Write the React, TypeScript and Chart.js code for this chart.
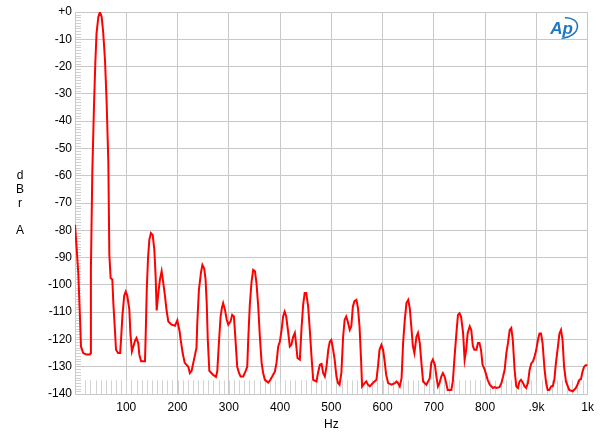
import React, { useEffect, useRef } from 'react';
import { Chart, registerables } from 'chart.js';

Chart.register(...registerables);

// Frequency (Hz) and level (dBr A) of the trace
const freqHz = [
  0, 3, 6.5, 9.7, 11.7, 16, 22, 29, 30.5, 31, 33.8, 37, 39.6, 42, 45.5, 48.7, 52, 55, 58.5, 61.7,
  65, 67, 69.5, 72.8, 74.8, 78, 80, 84, 88, 90, 92.6, 96, 99, 102, 106, 108, 111, 114, 117, 120,
  123.5, 125.5, 129, 136.5, 138, 140, 142.5, 145, 148, 151.5, 154.7, 157.3, 159.3, 162.5, 165.7, 169, 172, 175.5, 178.7, 182,
  188.5, 195, 199.6, 204, 206, 210, 214, 221, 224, 227.5, 232, 237, 238.5, 241.7, 245.7, 248.5, 252, 254.7, 257, 259,
  262, 269.6, 275, 277.5, 280.7, 284, 286.5, 289, 292.4, 296, 299, 303.4, 306.6, 310, 313, 316.4, 320, 323, 328, 332.6,
  336, 337.9, 341, 344.4, 347.6, 351, 354, 357.4, 360.6, 364, 367, 370.4, 377, 381, 384.6, 390, 393, 396.4, 399.6, 403,
  406, 409, 412, 416, 419, 422, 425.6, 428.8, 431, 434, 438.6, 441.9, 445, 448, 451, 454.8, 458, 461.3, 464.6, 471,
  474, 477.6, 481, 484, 487.3, 490.6, 494, 497, 500, 503.6, 506.5, 510, 513, 516, 519.6, 523, 526, 529, 532, 536,
  539, 542, 545, 549, 552, 555, 558, 560, 565, 568, 571.6, 575, 581, 588, 591, 594, 597.6, 601, 604, 607,
  610.8, 617.5, 624, 627, 630, 633.5, 637, 640, 643.3, 646.5, 650, 653, 656, 659, 662, 666, 669, 672.5, 675.7, 679,
  685.4, 692, 695, 698, 702, 705, 708, 711, 714.5, 717.6, 721, 724, 727, 734, 737, 740, 744, 747, 750, 753,
  757, 760, 763, 766, 770, 773, 776, 779, 783, 786, 789, 792, 795, 799, 805, 809, 815.5, 819, 822, 828,
  831.7, 835, 838, 841.4, 844.6, 848, 851, 854, 857.5, 860.7, 864, 867, 870, 874, 877, 880, 883.5, 886.7, 890, 893,
  896, 899.7, 903, 906, 909, 912, 916, 919, 922, 925, 929, 932, 935, 938, 942, 945, 948, 951, 954, 957.6,
  964, 971, 977, 980, 984, 987, 990, 993, 996, 1000,
];

const levelDb = [
  -78, -86, -96, -112, -122.6, -125, -125.5, -125.5, -125, -94.5, -58.5, -34.7, -18.8, -7.8, -1.8, 0, -1.8, -7.5, -17.6, -33,
  -55, -89, -97.5, -98, -106.7, -117, -123.8, -125, -125, -119.5, -111, -104, -102.5, -104, -109, -117.6, -124.4, -122.5, -120.5, -119.5,
  -121.5, -125.6, -128, -128, -117.6, -101.8, -90, -83.5, -81, -81.7, -87, -97, -109.4, -103, -98, -95, -99, -104, -109.5, -113.4,
  -114.6, -115, -113, -117, -120, -125, -128.6, -130, -132.3, -131.5, -127.5, -123, -114, -101.8, -95.5, -92.7, -94, -98, -107, -120,
  -131.5, -133, -133.7, -131.7, -121.3, -111.6, -108.5, -106.7, -109, -112.8, -114.6, -113.4, -111, -111.6, -120, -130, -132.3, -133.6, -133.6, -131.7,
  -130, -120, -107.3, -98.8, -94.5, -95, -99.4, -107.9, -119, -128.6, -132.3, -134.8, -135.8, -134.8, -133.6, -131.7, -128.6, -122.6, -120.8, -116.5,
  -111.6, -109.8, -111.6, -117.6, -122.6, -122, -119, -117.6, -121.3, -126.8, -127.4, -115.8, -107.3, -103, -103, -107.9, -116.5, -126.2, -134.8, -135.4,
  -132.3, -129.3, -129, -132.3, -133.6, -129.9, -123.8, -120.8, -120.2, -123.8, -127.4, -133.6, -136, -136.6, -132.3, -119, -112.8, -111.6, -113.4, -116.5,
  -115.2, -108, -106, -105.5, -108.5, -115.2, -127.4, -137.2, -136, -135.4, -136.6, -137.2, -136, -134.8, -129.9, -123.8, -122, -123.8, -128, -133,
  -136, -136.6, -136, -135.4, -136, -137.2, -134.2, -121.3, -112.8, -106.7, -105.5, -108.5, -115.2, -122.4, -125, -119, -117.6, -121.3, -128.6, -135.4,
  -136.6, -134.2, -128.6, -127.4, -129.3, -133.6, -137.2, -136, -133.6, -132.3, -133.6, -136, -138.5, -138.5, -135.4, -127.4, -117.6, -111, -110.4, -111.6,
  -117.6, -127.4, -123.8, -117.6, -115.2, -116.5, -122.4, -123.8, -123.8, -121.3, -121.3, -123.8, -129.3, -131, -134.8, -136.6, -137.8, -137.5, -137.8, -137.5,
  -136, -133.6, -131.2, -125, -121.3, -116.5, -115.8, -120.2, -131.2, -137.2, -137.8, -135.4, -134.8, -136, -137.2, -137.8, -136, -131.2, -128.8, -128.2,
  -126.6, -123.8, -120.2, -117.8, -117.8, -121.3, -131.2, -136, -138.5, -138.5, -137.2, -137.2, -134.8, -128.8, -122.6, -117.8, -116.5, -120.2, -130, -135.4,
  -138.5, -139, -137.8, -136.6, -134.8, -134.5, -131.8, -130, -129.5, -129.5,
];

const xTickValues = [0, 100, 200, 300, 400, 500, 600, 700, 800, 900, 1000];
const xTickLabels = ['', '100', '200', '300', '400', '500', '600', '700', '800', '.9k', '1k'];
const yTickValues = [0, -10, -20, -30, -40, -50, -60, -70, -80, -90, -100, -110, -120, -130, -140];
const yTickLabels = ['+0', '-10', '-20', '-30', '-40', '-50', '-60', '-70', '-80', '-90', '-100', '-110', '-120', '-130', '-140'];
const yAxisTitle = ['d', 'B', 'r', '', 'A'];
const xAxisTitle = 'Hz';
const noiseFloorDb = -135;

const FONT = '"Liberation Sans", Arial, sans-serif';
const GRID = '#c8c8c8';

const decorPlugin = {
  id: 'decor',
  beforeDatasetsDraw(chart: any) {
    const { ctx, chartArea, scales } = chart;
    const x = scales.x;
    const y = scales.y;
    ctx.save();
    // minor ticks on the left edge
    ctx.strokeStyle = '#cfcfcf';
    ctx.lineWidth = 1;
    ctx.beginPath();
    for (let v = -139; v < 0; v++) {
      if (v % 10 === 0) continue;
      const py = Math.round(y.getPixelForValue(v)) + 0.5;
      ctx.moveTo(chartArea.left, py);
      ctx.lineTo(chartArea.left + 6, py);
    }
    ctx.stroke();
    // hatch below noise floor
    ctx.strokeStyle = '#d2d2d2';
    ctx.beginPath();
    const top = y.getPixelForValue(noiseFloorDb);
    const bottom = y.getPixelForValue(-140);
    for (let f = 20; f < 1000; f += 10) {
      const px = Math.round(x.getPixelForValue(f)) + 0.5;
      ctx.moveTo(px, top);
      ctx.lineTo(px, bottom);
    }
    ctx.stroke();
    ctx.restore();
  },
  afterDraw(chart: any) {
    const { ctx, chartArea } = chart;
    ctx.save();
    ctx.fillStyle = '#000';
    ctx.font = `12px ${FONT}`;
    ctx.textAlign = 'center';
    ctx.textBaseline = 'middle';
    const startY = 176;
    yAxisTitle.forEach((t, i) => {
      if (t) ctx.fillText(t, 20, startY + i * 13.7);
    });
    // AP logo
    const lx = chartArea.right - 24;
    const ly = chartArea.top + 16;
    ctx.fillStyle = '#1f77c0';
    ctx.strokeStyle = '#1f77c0';
    ctx.font = `italic bold 17px ${FONT}`;
    ctx.textAlign = 'center';
    ctx.fillText('Ap', lx - 2, ly + 1);
    ctx.lineWidth = 1.6;
    ctx.beginPath();
    ctx.ellipse(lx, ly, 14, 10, -0.25, -1.3, 1.9);
    ctx.stroke();
    ctx.restore();
  },
};

export default function App() {
  const ref = useRef<HTMLCanvasElement | null>(null);
  useEffect(() => {
    document.body.style.margin = '0';
    if (!ref.current) return;
    const points = freqHz.map((f, i) => ({ x: f, y: levelDb[i] }));
    const chart = new Chart(ref.current, {
      type: 'line',
      data: {
        datasets: [
          {
            data: points,
            borderColor: '#ff0000',
            borderWidth: 2,
            pointRadius: 0,
            tension: 0,
            fill: false,
          },
        ],
      },
      options: {
        animation: false,
        responsive: false,
        devicePixelRatio: 1,
        layout: { padding: { top: 12, right: 12, left: 0, bottom: 0 } },
        plugins: { legend: { display: false }, tooltip: { enabled: false } },
        scales: {
          x: {
            type: 'linear',
            min: 0,
            max: 1000,
            afterFit: (s: any) => { s.height = 46; },
            afterBuildTicks: (s: any) => { s.ticks = xTickValues.map((v) => ({ value: v })); },
            ticks: {
              autoSkip: false,
              maxRotation: 0,
              padding: 6,
              color: '#000',
              font: { family: FONT, size: 12 },
              callback: (v: any) => {
                const i = xTickValues.indexOf(Number(v));
                return i >= 0 ? xTickLabels[i] : '';
              },
            },
            grid: { color: GRID, drawTicks: false, lineWidth: 1 },
            border: { display: true, color: GRID },
            title: { display: true, text: xAxisTitle, color: '#000', font: { family: FONT, size: 12 }, padding: { top: 2, bottom: 8 } },
          },
          y: {
            type: 'linear',
            min: -140,
            max: 0,
            afterFit: (s: any) => { s.width = 75; },
            afterBuildTicks: (s: any) => { s.ticks = yTickValues.map((v) => ({ value: v })); },
            ticks: {
              autoSkip: false,
              padding: 3,
              color: '#000',
              font: { family: FONT, size: 12 },
              callback: (v: any) => {
                const i = yTickValues.indexOf(Number(v));
                return i >= 0 ? yTickLabels[i] : '';
              },
            },
            grid: { color: GRID, drawTicks: false, lineWidth: 1 },
            border: { display: true, color: GRID },
          },
        },
      },
      plugins: [decorPlugin],
    });
    return () => chart.destroy();
  }, []);
  return (
    <div style={{ width: 600, height: 440 }}>
      <canvas ref={ref} width={600} height={440} style={{ display: 'block' }} />
    </div>
  );
}
